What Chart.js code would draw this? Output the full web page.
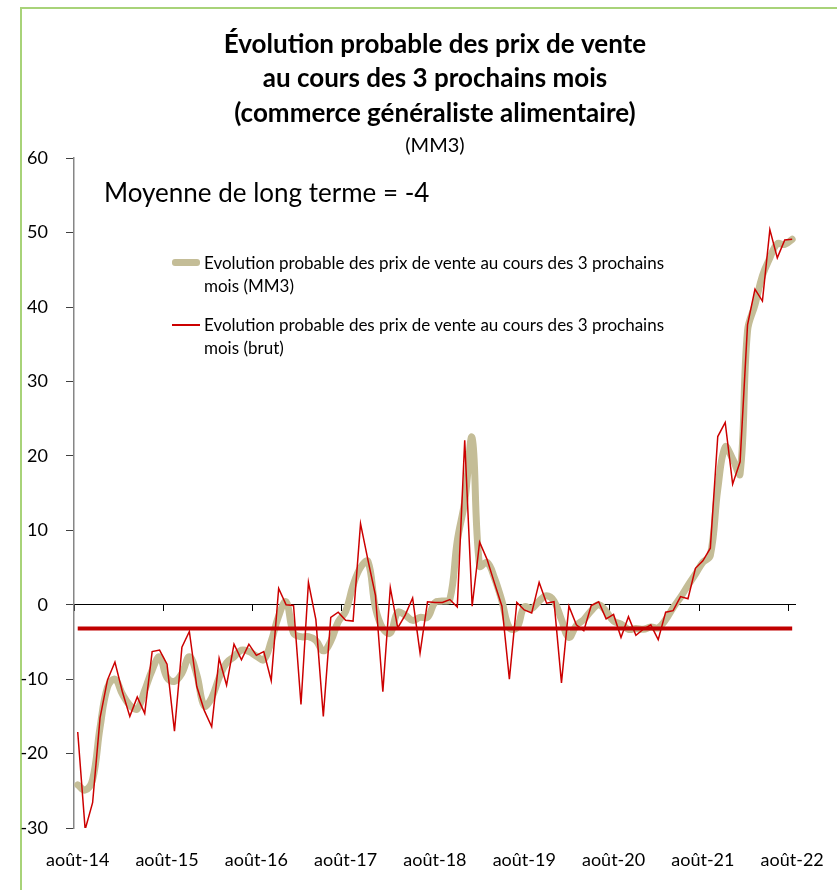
<!DOCTYPE html>
<html lang="fr">
<head>
<meta charset="utf-8">
<title>Évolution probable des prix de vente</title>
<script src="https://cdn.jsdelivr.net/npm/chart.js@4.4.1/dist/chart.umd.min.js"></script>
<style>
  html, body { margin: 0; padding: 0; background: #fff; overflow: hidden; }
  #wrap { position: relative; width: 837px; height: 890px; font-family: Lato, sans-serif; color: #000; }
  #frame { position: absolute; left: 20px; top: 7px; width: 900px; height: 1000px;
           border-left: 2px solid #a8d379; border-top: 2px solid #a8d379; }
  #chart { position: absolute; left: 0; top: 0; }
  .note { position: absolute; left: 104px; top: 175px; font-size: 26px; line-height: 34px; white-space: nowrap; }
  .legend-item { position: absolute; left: 172px; }
  .legend-item .swatch { position: absolute; left: 0; width: 28px; }
  .legend-item .label { position: absolute; left: 32px; top: 0; font-size: 17px; line-height: 23px; white-space: nowrap; }
</style>
</head>
<body>
<div id="wrap">
  <div id="frame"></div>
  <canvas id="chart" width="837" height="890"></canvas>
  <div class="note">Moyenne de long terme = -4</div>
  <div class="legend-item" style="top: 251px;">
    <div class="swatch" style="top: 8px; height: 7px; background: #c4bd97; border-radius: 3px;"></div>
    <div class="label">Evolution probable des prix de vente au cours des 3 prochains<br>mois (MM3)</div>
  </div>
  <div class="legend-item" style="top: 313px;">
    <div class="swatch" style="top: 11px; height: 1.5px; background: #cc0000;"></div>
    <div class="label">Evolution probable des prix de vente au cours des 3 prochains<br>mois (brut)</div>
  </div>
</div>
<script>
// months août-14 .. août-22
const monthNames = ['janv', 'févr', 'mars', 'avr', 'mai', 'juin', 'juil', 'août', 'sept', 'oct', 'nov', 'déc'];
const categories = [];
for (let y = 14; y <= 22; y++) {
    for (let m = 0; m < 12; m++) {
        if ((y === 14 && m < 7) || (y === 22 && m > 7)) continue;
        categories.push(monthNames[m] + '-' + y);
    }
}
const labelEvery = 12; // only the "août" labels are shown

const rawValues = [
    -17.1, -30.2, -26.6, -15.2, -10.1, -7.7, -11.7, -15.0, -12.4, -14.6, -6.3, -6.1,
    -8.0, -17.0, -5.7, -3.6, -11.0, -14.2, -16.4, -7.2, -10.8, -5.3, -7.4, -5.3,
    -6.8, -6.3, -10.2, 2.2, 0.0, -0.1, -13.4, 3.0, -2.0, -15.0, -1.7, -1.0,
    -2.1, -2.2, 10.9, 6.0, 1.3, -11.7, 2.3, -3.1, -1.4, 0.9, -6.5, 0.4,
    0.3, 0.3, 0.7, -0.3, 22.1, -0.2, 8.4, 6.1, 2.9, -0.2, -10.0, 0.3,
    -0.7, -1.1, 3.0, 0.2, 0.4, -10.5, -0.2, -2.7, -3.5, -0.1, 0.4, -1.9,
    -1.3, -4.4, -1.6, -4.1, -3.3, -2.7, -4.7, -1.0, -0.8, 1.1, 0.8, 4.9,
    5.9, 7.6, 22.6, 24.5, 16.2, 19.2, 37.6, 42.4, 40.8, 50.4, 46.6, 49.0,
    49.1
];

const mm3Values = [
    -24.2, -24.9, -23.5, -16.5, -11.1, -10.0, -12.0, -13.5, -14.0, -11.5, -8.8, -7.0,
    -9.8, -10.3, -9.2, -7.0, -9.4, -13.6, -12.5, -9.8, -7.8, -7.0, -6.1, -6.3,
    -6.9, -7.4, -4.9, -1.5, 0.4, -3.8, -4.3, -4.3, -4.8, -6.2, -4.9, -2.3,
    -0.9, 2.6, 5.0, 5.8, -0.4, -3.2, -3.8, -1.0, -1.4, -2.1, -1.7, -1.7,
    0.3, 0.5, 0.7, 8.6, 13.9, 22.4, 5.2, 5.7, 3.6, 0.5, -3.1, -3.1,
    -0.3, -0.5, 0.5, 1.2, 0.5, -2.0, -4.4, -2.8, -2.0, -0.8, 0.0, -0.9,
    -2.2, -2.6, -3.3, -3.2, -3.3, -3.0, -3.1, -2.0, -0.4, 1.0, 2.6, 4.1,
    5.7, 6.6, 15.5, 21.2, 19.6, 17.6, 36.8, 40.3, 44.2, 46.6, 48.5, 48.4,
    49.1
];

const longTermMean = -3.2;

const titleLines = [
    'Évolution probable des prix de vente',
    'au cours des 3 prochains mois',
    '(commerce généraliste alimentaire)'
];
const subtitleText = '(MM3)';

Chart.defaults.font.family = 'Lato, sans-serif';
Chart.defaults.color = '#000';

new Chart(document.getElementById('chart'), {
    type: 'line',
    data: {
        labels: categories,
        datasets: [
            {
                label: 'Moyenne de long terme',
                data: categories.map(() => longTermMean),
                borderColor: '#c00000',
                borderWidth: 4,
                pointRadius: 0,
                order: 0
            },
            {
                label: 'Evolution probable des prix de vente au cours des 3 prochains mois (brut)',
                data: rawValues,
                borderColor: '#cc0000',
                borderWidth: 1.5,
                pointRadius: 0,
                tension: 0,
                order: 1
            },
            {
                label: 'Evolution probable des prix de vente au cours des 3 prochains mois (MM3)',
                data: mm3Values,
                borderColor: '#c4bd97',
                borderWidth: 7,
                pointRadius: 0,
                tension: 0.4,
                borderCapStyle: 'round',
                borderJoinStyle: 'round',
                order: 2
            }
        ]
    },
    options: {
        responsive: false,
        animation: false,
        layout: { padding: { top: 28, left: 0, right: 39, bottom: 0 } },
        plugins: {
            legend: { display: false },
            tooltip: { enabled: false },
            title: {
                display: true,
                text: titleLines,
                fullSize: false,
                font: { size: 26, weight: 'bold', lineHeight: 1.31 },
                padding: { top: 0, bottom: 3 }
            },
            subtitle: {
                display: true,
                text: subtitleText,
                fullSize: false,
                font: { size: 20, lineHeight: 1.2 },
                padding: { top: 0, bottom: 1 }
            }
        },
        scales: {
            x: {
                type: 'category',
                offset: true,
                afterFit: s => { s.height = 62; },
                grid: { display: false },
                border: { display: false },
                ticks: {
                    autoSkip: false,
                    maxRotation: 0,
                    padding: 13,
                    font: { size: 18 },
                    callback: (v, i) => i % labelEvery === 0 ? categories[i] : ''
                }
            },
            x2: {
                type: 'category',
                axis: 'x',
                offset: true,
                position: { y: 0 },
                afterFit: s => { s.height = 0; },
                ticks: { display: false },
                grid: {
                    offset: true,
                    drawOnChartArea: false,
                    drawTicks: true,
                    tickLength: 6,
                    color: ctx => ctx.index % labelEvery === 0 ? '#000' : 'rgba(0,0,0,0)'
                },
                border: { color: '#000', width: 1 }
            },
            y: {
                min: -30,
                max: 60,
                afterFit: s => { s.width = 74; },
                ticks: { stepSize: 10, padding: 18, font: { size: 18 } },
                grid: { drawOnChartArea: false, drawTicks: true, tickLength: 8, color: '#404040' },
                border: { color: '#868686', width: 1.5 }
            }
        }
    }
});
</script>
</body>
</html>
